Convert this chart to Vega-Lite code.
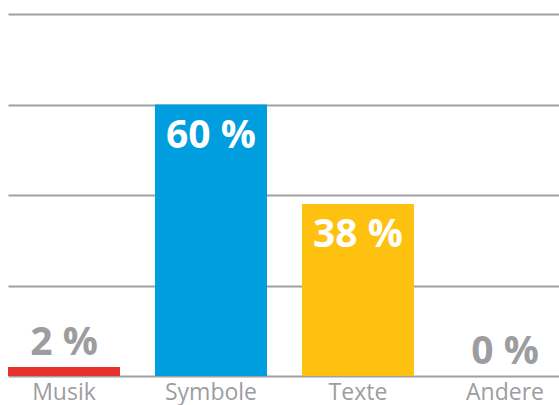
{
  "$schema": "https://vega.github.io/schema/vega-lite/v6.json",
  "width": 553,
  "height": 362,
  "autosize": {"type": "none"},
  "padding": {"left": 8, "top": 14, "right": 0, "bottom": 29},
  "background": "white",
  "config": {"view": {"stroke": null}, "font": "Open Sans"},
  "data": {
    "values": [
      {"cat": "Musik", "value": 2, "label": "2 %", "inside": false},
      {"cat": "Symbole", "value": 60, "label": "60 %", "inside": true},
      {"cat": "Texte", "value": 38, "label": "38 %", "inside": true},
      {"cat": "Andere", "value": 0, "label": "0 %", "inside": false}
    ]
  },
  "encoding": {
    "x": {
      "field": "cat",
      "type": "nominal",
      "sort": null,
      "scale": {"paddingInner": 0.238, "paddingOuter": 0},
      "axis": {
        "title": null,
        "labelAngle": 0,
        "domain": false,
        "ticks": false,
        "labelFontSize": 23,
        "labelColor": "#9d9d9f",
        "labelPadding": 5,
        "labelFont": "Open Sans"
      }
    },
    "y": {
      "field": "value",
      "type": "quantitative",
      "scale": {"domain": [0, 80]},
      "axis": {
        "title": null,
        "labels": false,
        "ticks": false,
        "domain": false,
        "values": [0, 20, 40, 60, 80],
        "gridColor": "#a0a0a2",
        "gridWidth": 2,
        "gridOpacity": 1
      }
    }
  },
  "layer": [
    {
      "mark": {"type": "bar"},
      "encoding": {
        "color": {
          "field": "cat",
          "type": "nominal",
          "scale": {
            "domain": ["Musik", "Symbole", "Texte", "Andere"],
            "range": ["#e8302a", "#009ddf", "#fec10f", "#9d9d9f"]
          },
          "legend": null
        }
      }
    },
    {
      "transform": [{"filter": "datum.inside"}],
      "mark": {"type": "text", "baseline": "middle", "dy": 31, "fontSize": 39, "fontWeight": 700, "color": "white", "font": "Open Sans"},
      "encoding": {"text": {"field": "label"}}
    },
    {
      "transform": [{"filter": "!datum.inside"}],
      "mark": {"type": "text", "baseline": "middle", "dy": -24, "fontSize": 39, "fontWeight": 700, "color": "#9d9d9f", "font": "Open Sans"},
      "encoding": {"text": {"field": "label"}}
    }
  ]
}
